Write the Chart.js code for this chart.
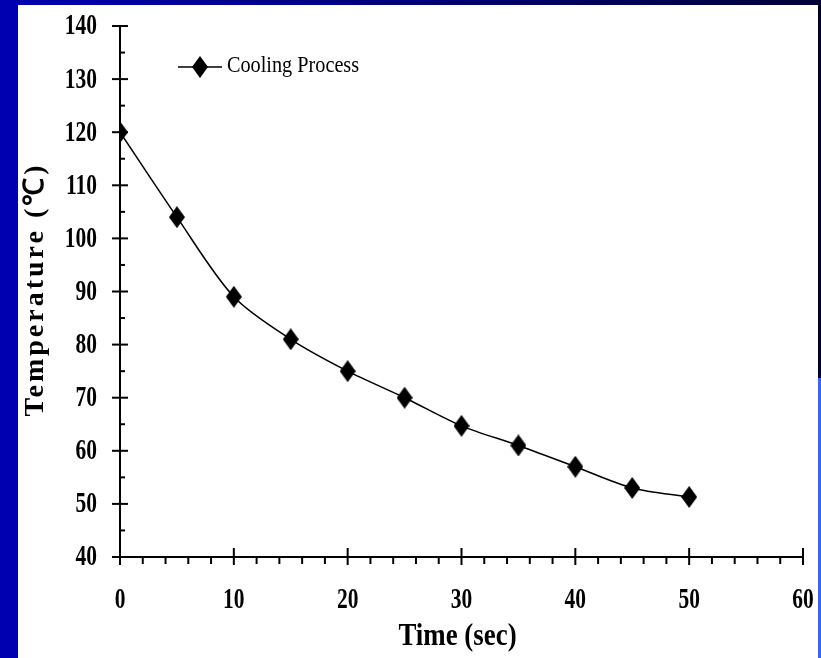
<!DOCTYPE html>
<html>
<head>
<meta charset="utf-8">
<script src="https://cdn.jsdelivr.net/npm/chart.js@4.4.1/dist/chart.umd.min.js"></script>
<style>
  html, body { margin: 0; padding: 0; }
  body { width: 821px; height: 658px; position: relative; overflow: hidden; background: #0000b0; }
  #topbar { position: absolute; left: 0; top: 0; width: 821px; height: 5px; background: linear-gradient(to right, #0000b0 0%, #000078 50%, #000038 100%); }
  #rightTop { position: absolute; left: 818px; top: 0; width: 3px; height: 378px; background: #000030; }
  #rightBottom { position: absolute; left: 818px; top: 378px; width: 3px; height: 280px; background: #3366ff; }
  #panel { position: absolute; left: 18px; top: 5px; width: 800px; height: 653px; background: #ffffff; }
  #wrap { position: absolute; left: 0; top: 0; width: 821px; height: 658px; }
</style>
</head>
<body>
<div id="topbar"></div>
<div id="rightTop"></div>
<div id="rightBottom"></div>
<div id="panel"></div>
<div id="wrap"><canvas id="chart" width="821" height="658"></canvas></div>
<script>
// data
const timeSec = [0, 5, 10, 15, 20, 25, 30, 35, 40, 45, 50];
const tempC = [120, 104, 89, 81, 75, 70, 64.7, 61, 57, 53, 51.3];
const xTicks = [0, 10, 20, 30, 40, 50, 60];
const yTicks = [40, 50, 60, 70, 80, 90, 100, 110, 120, 130, 140];
const seriesName = 'Cooling Process';
const xTitle = 'Time (sec)';
const yTitle = 'Temperature (℃)';

// tall black diamond marker
function makeDiamond(w, h) {
    const c = document.createElement('canvas');
    c.width = w; c.height = h;
    const g = c.getContext('2d');
    g.fillStyle = '#000';
    g.beginPath();
    g.moveTo(w / 2, 0); g.lineTo(w, h / 2); g.lineTo(w / 2, h); g.lineTo(0, h / 2);
    g.closePath(); g.fill();
    return c;
}
const diamond = makeDiamond(16, 22);

function condensed(ctx, text, x, y, font, align, sx) {
    ctx.save();
    ctx.translate(x, y);
    ctx.scale(sx, 1);
    ctx.font = font;
    ctx.textAlign = align;
    ctx.textBaseline = 'middle';
    ctx.fillStyle = '#000';
    ctx.fillText(text, 0, 0);
    ctx.restore();
}

const axesPlugin = {
    id: 'oldStyleAxes',
    beforeDatasetsDraw(chart) {
        const ctx = chart.ctx;
        const xs = chart.scales.x, ys = chart.scales.y;
        const x0 = xs.getPixelForValue(0), x1 = xs.getPixelForValue(60);
        const y0 = ys.getPixelForValue(40), y1 = ys.getPixelForValue(140);
        ctx.save();
        ctx.strokeStyle = '#000';
        ctx.lineWidth = 2;
        ctx.beginPath();
        ctx.moveTo(x0, y1); ctx.lineTo(x0, y0); ctx.lineTo(x1, y0);
        ctx.stroke();
        // y ticks
        yTicks.forEach(v => {
            const p = ys.getPixelForValue(v);
            ctx.beginPath(); ctx.moveTo(x0 - 8, p); ctx.lineTo(x0 + 8, p); ctx.stroke();
            if (v < 140) {
                const m = ys.getPixelForValue(v + 5);
                ctx.beginPath(); ctx.moveTo(x0, m); ctx.lineTo(x0 + 5, m); ctx.stroke();
            }
            condensed(ctx, String(v), x0 - 23, p + 1, 'bold 29px "Liberation Serif"', 'right', 0.74);
        });
        // x ticks
        xTicks.forEach(v => {
            const p = xs.getPixelForValue(v);
            ctx.beginPath(); ctx.moveTo(p, y0 - 9); ctx.lineTo(p, y0 + 8); ctx.stroke();
            if (v < 60) {
                for (let k = 2; k < 10; k += 2) {
                    const m = xs.getPixelForValue(v + k);
                    ctx.beginPath(); ctx.moveTo(m, y0); ctx.lineTo(m, y0 + 7); ctx.stroke();
                }
            }
            condensed(ctx, String(v), p, y0 + 44, 'bold 29px "Liberation Serif"', 'center', 0.74);
        });
        // axis titles
        condensed(ctx, xTitle, (x0 + x1) / 2 - 4, y0 + 80, 'bold 32px "Liberation Serif"', 'center', 0.84);
        ctx.save();
        ctx.translate(36, (y0 + y1) / 2 - 2);
        ctx.rotate(-Math.PI / 2);
        ctx.font = 'bold 28px "Liberation Serif"';
        ctx.letterSpacing = '3px';
        ctx.textAlign = 'center';
        ctx.textBaseline = 'middle';
        ctx.fillStyle = '#000';
        ctx.fillText(yTitle, 0, 0);
        ctx.restore();
        // legend
        ctx.lineWidth = 1.5;
        ctx.beginPath(); ctx.moveTo(178, 67); ctx.lineTo(222, 67); ctx.stroke();
        ctx.drawImage(diamond, 200 - 8, 67 - 11);
        condensed(ctx, chart.data.datasets[0].label, 227, 66, '23px "Liberation Serif"', 'left', 0.88);
        ctx.restore();
    }
};

new Chart(document.getElementById('chart'), {
    type: 'scatter',
    data: {
        datasets: [{
            label: seriesName,
            data: timeSec.map((t, i) => ({ x: t, y: tempC[i] })),
            showLine: true,
            borderColor: '#000',
            borderWidth: 1.5,
            tension: 0.3,
            pointStyle: diamond,
            pointRadius: 8,
            pointHoverRadius: 8
        }]
    },
    options: {
        responsive: false,
        animation: false,
        layout: { padding: { top: 26, right: 18, left: 0, bottom: 0 } },
        plugins: { legend: { display: false }, tooltip: { enabled: false } },
        scales: {
            x: {
                type: 'linear', min: 0, max: 60,
                grid: { display: false },
                border: { display: false },
                ticks: { display: false },
                afterFit: s => { s.height = 101; }
            },
            y: {
                type: 'linear', min: 40, max: 140,
                grid: { display: false },
                border: { display: false },
                ticks: { display: false },
                afterFit: s => { s.width = 120; }
            }
        }
    },
    plugins: [axesPlugin]
});
</script>
</body>
</html>
